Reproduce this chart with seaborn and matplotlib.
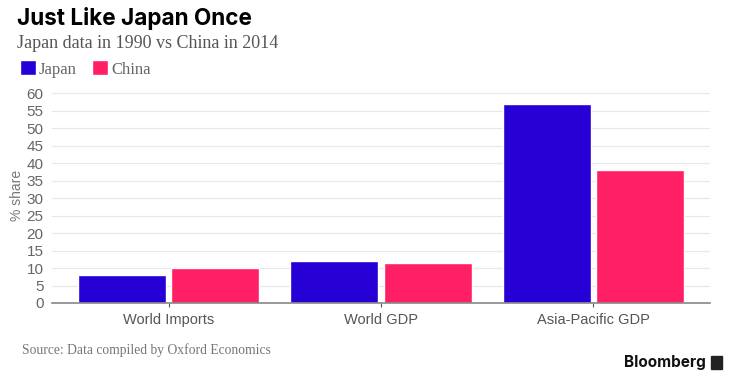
import matplotlib
matplotlib.use("Agg")
import matplotlib.pyplot as plt
import seaborn as sns
import pandas as pd

categories = ["World Imports", "World GDP", "Asia-Pacific GDP"]
japan = [8, 12, 57]
china = [10, 11.5, 38]
series = ["Japan", "China"]
yticks = list(range(0, 61, 5))

df = pd.DataFrame({
    "category": categories * 2,
    "value": japan + china,
    "series": ["Japan"] * 3 + ["China"] * 3,
})

sns.set_theme(style="white")
plt.rcParams["font.family"] = ["Liberation Sans", "DejaVu Sans"]

fig = plt.figure(figsize=(7.29, 3.75), dpi=100)
ax = fig.add_axes([52 / 729, 1 - 303 / 375, (710 - 52) / 729, (303 - 88) / 375])

palette = {"Japan": "#2700d6", "China": "#ff1f65"}
sns.barplot(data=df, x="category", y="value", hue="series", hue_order=series,
            order=categories, palette=palette, width=0.877, gap=0.054,
            saturation=1, ax=ax, legend=True)

ax.set_ylim(0, 61.5)
ax.set_yticks(yticks)
ax.set_xlim(-0.55, 2.55)
ax.yaxis.grid(True, color="#e8e8e8", linewidth=0.9)
ax.set_axisbelow(True)
for s in ["top", "right", "left"]:
    ax.spines[s].set_visible(False)
ax.spines["bottom"].set_color("#888888")
ax.spines["bottom"].set_linewidth(1.2)
ax.tick_params(axis="y", length=0, labelsize=11, colors="#666666", pad=6)
ax.tick_params(axis="x", length=3, width=0.8, color="#555555", labelsize=10.5,
               labelcolor="#555555", pad=4, bottom=True, direction="out")
ax.set_xlabel("")
ax.set_ylabel("% share", fontsize=10, color="#777777")
ax.yaxis.set_label_coords(-0.043, 0.5)

handles, labels = ax.get_legend_handles_labels()
ax.legend_.remove()
fig.legend(handles, labels, loc="center left", bbox_to_anchor=(13 / 729, 1 - 69 / 375),
           ncol=2, frameon=False, handlelength=1.0, handleheight=1.0,
           handletextpad=0.15, columnspacing=0.9, borderaxespad=0,
           prop={"family": "Liberation Serif", "size": 12}, labelcolor="#666666")

fig.text(17 / 729, 1 - 19 / 375, "Just Like Japan Once", fontsize=16.2, fontweight="bold",
         family=["Inter", "DejaVu Sans"], color="#000000", va="center")
fig.text(17 / 729, 1 - 44 / 375, "Japan data in 1990 vs China in 2014", fontsize=13,
         family=["Liberation Serif"], color="#555555", va="center")
fig.text(22 / 729, 1 - 350 / 375, "Source: Data compiled by Oxford Economics", fontsize=9.8,
         family=["Liberation Serif"], color="#777777", va="center")
fig.text(706 / 729, 1 - 362 / 375, "Bloomberg", fontsize=11, fontweight="bold",
         family=["Inter", "DejaVu Sans"], color="#111111", va="center", ha="right")
fig.patches.append(matplotlib.patches.Rectangle((711 / 729, 1 - 369 / 375), 11 / 729, 13 / 375,
                                                transform=fig.transFigure, color="#222222"))

fig.savefig("out.png", dpi=100, facecolor="white")
